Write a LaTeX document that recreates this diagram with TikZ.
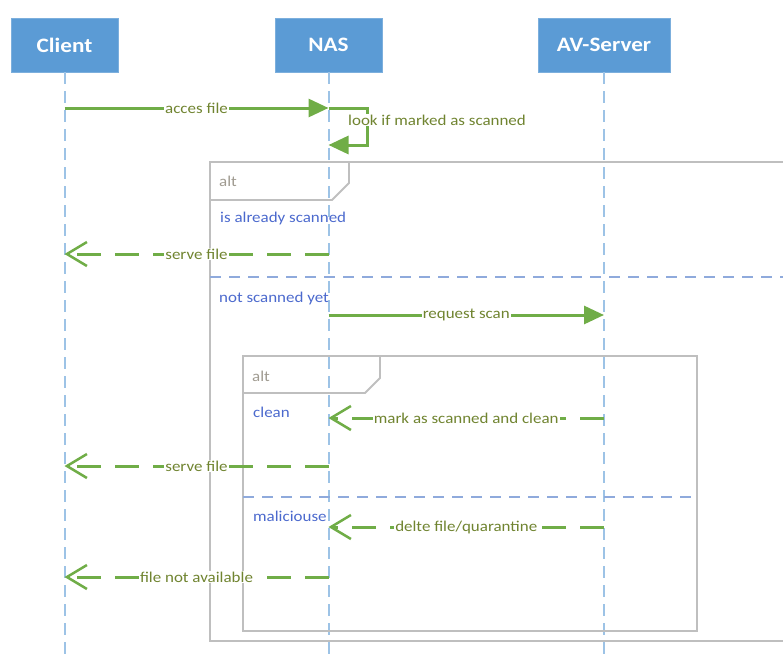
\documentclass[tikz,border=0pt]{standalone}
\usepackage{fontspec}
\setmainfont{Carlito}[FakeStretch=1.13]
\usetikzlibrary{arrows.meta}
\definecolor{hdrblue}{HTML}{5B9BD5}
\definecolor{lifeblue}{HTML}{9DC3E6}
\definecolor{msggreen}{HTML}{70AD47}
\definecolor{lbltext}{RGB}{112,132,48}
\definecolor{condblue}{RGB}{75,105,205}
\definecolor{alttext}{RGB}{160,155,145}
\definecolor{framegray}{HTML}{BFBFBF}
\definecolor{sepblue}{HTML}{8FAADC}
\tikzset{
  hdr/.style={fill=hdrblue, draw=hdrblue!80!white, line width=0.8pt, text=white,
    font=\fontsize{20.5}{24}\selectfont\bfseries, minimum height=54pt, inner sep=0pt},
  life/.style={draw=lifeblue, line width=2pt, dash pattern=on 12pt off 7pt},
  msg/.style={draw=msggreen, line width=3pt, -{Triangle[length=20pt,width=18pt]}},
  reply/.style={draw=msggreen, line width=3pt, dash pattern=on 24pt off 14pt,
    -{Straight Barb[length=20pt,width=24pt,line width=2.5pt]}},
  lbl/.style={fill=white, text=lbltext, inner sep=1pt, font=\fontsize{15}{17}\selectfont},
  cond/.style={text=condblue, inner sep=0pt, anchor=west, font=\fontsize{15}{17}\selectfont},
  alttxt/.style={text=alttext, inner sep=0pt, anchor=west, font=\fontsize{15}{17}\selectfont},
  framestyle/.style={draw=framegray, line width=1.8pt},
  sepline/.style={draw=sepblue, line width=1.5pt, dash pattern=on 11pt off 8pt},
}
\begin{document}
\begin{tikzpicture}[x=1pt,y=-1pt]
\useasboundingbox (0,0) rectangle (783,658);
\clip (0,0) rectangle (783,658);
% headers
\node[hdr, minimum width=107pt] (client) at (64.5,45) {Client};
\node[hdr, minimum width=107pt] (nas) at (328.5,45) {NAS};
\node[hdr, minimum width=132pt] (av) at (604,45) {AV-Server};
% lifelines
\coordinate (clientEnd) at (client |- 0,660);
\coordinate (nasEnd) at (nas |- 0,660);
\coordinate (avEnd) at (av |- 0,660);
\draw[life] (client.south) -- (clientEnd);
\draw[life] (nas.south) -- (nasEnd);
\draw[life] (av.south) -- (avEnd);
% outer alt frame
\draw[framestyle] (810,162) -- (210,162) -- (210,641) -- (810,641);
\draw[framestyle] (210,200) -- (332,200) -- (349,183) -- (349,162);
\node[alttxt] (alt1) at (219,181) {alt};
\draw[sepline] (210,277) -- (800,277);
\node[cond] (c1) at (220,218) {is already scanned};
\node[cond] (c2) at (219,298) {not scanned yet};
% inner alt frame
\draw[framestyle] (243,356) rectangle (697,631);
\draw[framestyle] (243,393) -- (365,393) -- (380,378) -- (380,356);
\node[alttxt] (alt2) at (252,376) {alt};
\draw[sepline] (243,497) -- (697,497);
\node[cond] (c3) at (253,412) {clean};
\node[cond] (c4) at (253,516) {maliciouse};
% messages
\draw[msg] (client |- 0,108) -- node[lbl] (l1) {acces file} (nas |- 0,108);
\coordinate (selfA) at (367,108);
\coordinate (selfB) at (367,145);
\draw[msg] (nas |- 0,108) -- (selfA) -- (selfB) -- (nas |- 0,145);
\node[lbl, anchor=west, inner sep=1pt] (l2) at (347,120) {look if marked as scanned};
\draw[reply] (nas |- 0,254) -- node[lbl] (l3) {serve file} (client |- 0,254);
\draw[msg] (nas |- 0,315) -- node[lbl] (l4) {request scan} (av |- 0,315);
\draw[reply] (av |- 0,418) -- node[lbl] (l5) {mark as scanned and clean} (nas |- 0,418);
\draw[reply] (nas |- 0,466) -- node[lbl] (l6) {serve file} (client |- 0,466);
\draw[reply] (av |- 0,527) -- node[lbl] (l7) {delte file/quarantine} (nas |- 0,527);
\draw[reply] (nas |- 0,577) -- node[lbl] (l8) {file not available} (client |- 0,577);
\end{tikzpicture}
\end{document}
